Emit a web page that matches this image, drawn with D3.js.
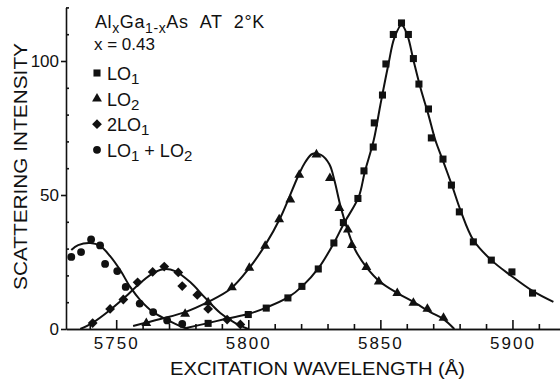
<!DOCTYPE html>
<html>
<head>
<meta charset="utf-8">
<script src="https://cdn.jsdelivr.net/npm/d3@7"></script>
<style>
  body { margin: 0; background: #fff; }
  svg { display: block; font-family: "Liberation Sans", Arial, sans-serif; }
</style>
</head>
<body>
<svg id="chart" width="560" height="379"></svg>
<script>
// measured points [wavelength (Å), intensity]
const lo1Points = [
  [5784.8, 2.1], [5800.0, 5.4], [5806.8, 7.8], [5815.0, 11.6], [5820.3, 15.9],
  [5826.5, 22.4], [5832.4, 32.1], [5836.0, 39.7], [5841.5, 48.7], [5843.8, 59.0],
  [5847.3, 67.9], [5847.7, 76.9], [5850.8, 87.3], [5852.1, 98.9], [5854.9, 109.9],
  [5858.0, 114.2], [5860.6, 109.9], [5862.5, 100.9], [5864.6, 91.4], [5868.2, 82.1],
  [5869.3, 71.3], [5873.7, 63.4], [5876.9, 53.7], [5879.9, 43.7], [5885.2, 32.5],
  [5892.0, 25.7], [5899.8, 21.3], [5907.6, 13.4]
];
const lo2Points = [
  [5761.4, 2.2], [5776.1, 5.6], [5784.8, 9.9], [5793.8, 15.5], [5800.4, 22.8],
  [5806.4, 31.0], [5811.7, 40.9], [5815.9, 48.3], [5819.3, 57.5], [5825.8, 65.1],
  [5830.9, 56.3], [5834.5, 45.1], [5837.7, 37.1], [5839.2, 31.3], [5844.7, 23.1],
  [5849.4, 17.7], [5856.4, 13.4], [5862.5, 9.7], [5867.8, 7.5], [5873.9, 4.1]
];
const twoLo1Points = [
  [5741.1, 2.2], [5747.7, 7.5], [5752.7, 11.0], [5758.1, 17.4], [5763.8, 21.3],
  [5768.2, 23.3], [5773.5, 21.1], [5775.0, 16.0], [5780.7, 12.7], [5784.8, 7.5],
  [5792.0, 3.5], [5797.0, 1.7]
];
const sumPoints = [
  [5733.0, 26.9], [5736.7, 28.7], [5740.5, 33.4], [5743.9, 31.2], [5745.8, 24.3],
  [5750.4, 21.6], [5753.6, 15.7], [5758.9, 9.5], [5764.0, 6.3], [5769.3, 3.2],
  [5775.0, 1.9]
];

// fitted curves
const lo1Curve = [
  [5776.5, 0.4], [5784.8, 2.2], [5792.0, 3.9], [5800.0, 5.6], [5806.8, 8.0],
  [5815.2, 11.9], [5820.5, 16.0], [5826.5, 22.6], [5832.2, 31.7], [5836.1, 39.2],
  [5841.8, 49.3], [5844.1, 58.6], [5847.5, 70.5], [5850.0, 83.6], [5853.0, 98.5],
  [5855.3, 108.6], [5858.0, 113.4], [5860.2, 109.7], [5862.5, 100.4], [5865.2, 89.9],
  [5868.2, 79.9], [5870.8, 70.5], [5873.9, 62.3], [5877.3, 53.0], [5880.3, 44.4],
  [5885.2, 33.2], [5892.0, 25.7], [5899.6, 19.8], [5907.6, 14.2], [5915.5, 10.1]
];
const lo2Curve = [
  [5756.4, 1.1], [5766.7, 3.7], [5776.1, 6.3], [5784.8, 10.1], [5793.2, 14.9],
  [5800.4, 22.8], [5806.4, 31.3], [5812.1, 41.4], [5818.9, 57.1], [5821.6, 62.3],
  [5824.2, 65.3], [5827.5, 65.0], [5830.7, 61.5], [5832.6, 55.5], [5834.8, 46.3],
  [5837.5, 37.3], [5840.5, 29.5], [5844.7, 23.1], [5850.0, 17.5], [5856.4, 13.4],
  [5862.5, 10.1], [5868.9, 6.3], [5873.9, 3.7], [5878.0, 0]
];
const twoLo1Curve = [
  [5736.4, 0], [5740.9, 2.2], [5747.7, 7.1], [5753.4, 11.9], [5759.1, 17.2],
  [5764.8, 21.3], [5768.6, 22.4], [5772.3, 21.6], [5778.0, 17.5], [5783.7, 11.6],
  [5789.4, 6.0], [5795.1, 2.2], [5800.0, 0]
];
const sumCurve = [
  [5733.0, 29.5], [5735.6, 31.3], [5740.2, 32.1], [5743.9, 31.0], [5747.7, 27.2],
  [5751.5, 22.0], [5755.3, 15.7], [5759.1, 10.8], [5764.0, 6.3], [5769.3, 3.4],
  [5774.2, 1.1], [5777.3, 0]
];

const xMajor = [5750, 5800, 5850, 5900];
const xMinor = [5740, 5760, 5770, 5780, 5790, 5810, 5820, 5830, 5840, 5860, 5870, 5880, 5890, 5910];
const yMajor = [0, 50, 100];
const yMinor = [10, 20, 30, 40, 60, 70, 80, 90, 110, 120];

const svg = d3.select("#chart");
const ink = "#111";

const x = d3.scaleLinear().domain([5731, 5918]).range([66, 560]);
const y = d3.scaleLinear().domain([0, 120]).range([329, 7.4]);

// x axis: minor ticks pointing up, majors longer, labels below
svg.append("g")
  .attr("class", "xAxis")
  .attr("transform", "translate(0,329)")
  .call(d3.axisTop(x).tickValues(xMinor).tickSize(5).tickFormat("").tickSizeOuter(0));
svg.append("g")
  .attr("class", "xAxis")
  .attr("transform", "translate(0,329)")
  .call(d3.axisTop(x).tickValues(xMajor).tickSize(9).tickFormat("").tickSizeOuter(0));
svg.append("g")
  .attr("class", "xLabels")
  .attr("transform", "translate(0,329)")
  .call(d3.axisBottom(x).tickValues(xMajor).tickSize(0).tickPadding(8).tickFormat(d3.format("d")))
  .call((g) => g.select(".domain").remove())
  .selectAll("text")
  .style("font-size", "17px")
  .style("letter-spacing", "2px")
  .attr("fill", ink);

// y axis: majors outside with labels, minors inside
svg.append("g")
  .attr("class", "yAxis")
  .attr("transform", "translate(66,0)")
  .call(d3.axisLeft(y).tickValues(yMajor).tickSize(5).tickPadding(2).tickSizeOuter(0))
  .selectAll("text")
  .style("font-size", "17px")
  .attr("fill", ink);
svg.append("g")
  .attr("class", "yAxis")
  .attr("transform", "translate(66,0)")
  .call(d3.axisRight(y).tickValues(yMinor).tickSize(3).tickFormat("").tickSizeOuter(0))
  .call((g) => g.select(".domain").remove());

svg.selectAll(".xAxis path, .xAxis line, .yAxis path, .yAxis line")
  .attr("stroke", ink)
  .attr("stroke-width", 1.6);

// axis titles
svg.append("text")
  .attr("x", 170)
  .attr("y", 375)
  .attr("textLength", 295)
  .attr("lengthAdjust", "spacingAndGlyphs")
  .attr("fill", ink)
  .style("font-size", "19px")
  .text("EXCITATION WAVELENGTH (Å)");

svg.append("text")
  .attr("transform", "translate(27,290) rotate(-90)")
  .attr("textLength", 247)
  .attr("lengthAdjust", "spacingAndGlyphs")
  .attr("fill", ink)
  .style("font-size", "19px")
  .text("SCATTERING INTENSITY");

// fitted curves
const line = d3.line()
  .x((d) => x(d[0]))
  .y((d) => y(d[1]))
  .curve(d3.curveCatmullRom.alpha(0.5));

[lo1Curve, lo2Curve, twoLo1Curve, sumCurve].forEach((c) => {
  svg.append("path")
    .datum(c)
    .attr("fill", "none")
    .attr("stroke", ink)
    .attr("stroke-width", 2)
    .attr("d", line);
});

// markers (diamond = square turned 45°)
const series = [
  { pts: lo1Points, sym: d3.symbolSquare, size: 50, rot: 0 },
  { pts: lo2Points, sym: d3.symbolTriangle, size: 42, rot: 0 },
  { pts: twoLo1Points, sym: d3.symbolSquare, size: 48, rot: 45 },
  { pts: sumPoints, sym: d3.symbolCircle, size: 48, rot: 0 },
];

series.forEach((s) => {
  svg.append("g")
    .selectAll("path")
    .data(s.pts)
    .join("path")
    .attr("transform", (d) => `translate(${x(d[0])},${y(d[1])}) rotate(${s.rot})`)
    .attr("d", d3.symbol(s.sym, s.size))
    .attr("fill", ink);
});

// legend
const legend = svg.append("g").attr("fill", ink);

const title = legend.append("text")
  .attr("x", 95)
  .attr("y", 28)
  .style("font-size", "18px")
  .style("letter-spacing", "0.6px");
title.append("tspan").text("Al");
title.append("tspan").attr("dy", 5).style("font-size", "14px").text("x");
title.append("tspan").attr("dy", -5).text("Ga");
title.append("tspan").attr("dy", 5).style("font-size", "14px").text("1-x");
title.append("tspan").attr("dy", -5).text("As\u00a0\u00a0AT\u00a0\u00a02°K");

legend.append("text")
  .attr("x", 94)
  .attr("y", 50)
  .style("font-size", "17px")
  .text("x = 0.43");

const legendItems = [
  { sym: d3.symbolSquare, size: 50, rot: 0, main: "LO", sub: "1", rest: "", sub2: "" },
  { sym: d3.symbolTriangle, size: 42, rot: 0, main: "LO", sub: "2", rest: "", sub2: "" },
  { sym: d3.symbolSquare, size: 48, rot: 45, main: "2LO", sub: "1", rest: "", sub2: "" },
  { sym: d3.symbolCircle, size: 48, rot: 0, main: "LO", sub: "1", rest: "+ LO", sub2: "2" },
];

legendItems.forEach((item, i) => {
  const by = 80 + i * 25.6;
  legend.append("path")
    .attr("transform", `translate(97,${by - 7}) rotate(${item.rot})`)
    .attr("d", d3.symbol(item.sym, item.size));
  const t = legend.append("text")
    .attr("x", 107)
    .attr("y", by)
    .style("font-size", "18px");
  t.append("tspan").text(item.main);
  t.append("tspan").attr("dy", 4).style("font-size", "15px").text(item.sub);
  if (item.rest) {
    t.append("tspan").attr("dy", -4).attr("dx", 5).text(item.rest);
    t.append("tspan").attr("dy", 4).style("font-size", "15px").text(item.sub2);
  }
});
</script>
</body>
</html>
